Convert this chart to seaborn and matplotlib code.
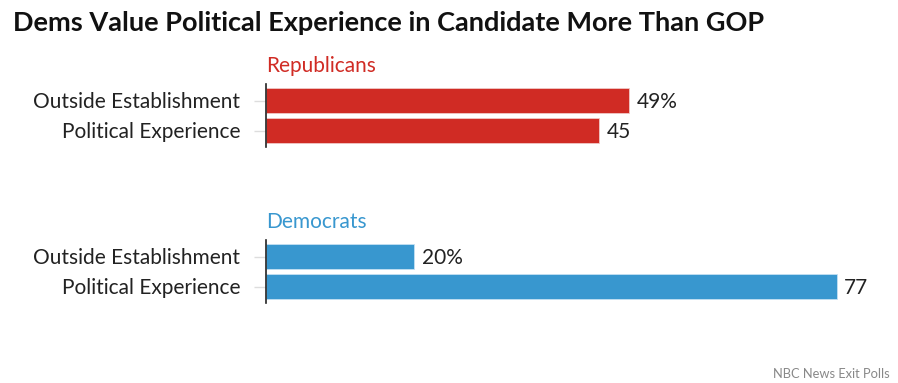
import pandas as pd
import seaborn as sns
import matplotlib.pyplot as plt

# Dados
categorias = ['Outside Establishment', 'Political Experience']
republicanos = [49, 45]
democratas = [20, 77]
rotulos_rep = ['49%', '45']
rotulos_dem = ['20%', '77']

sns.set_theme(style='white')
plt.rcParams['font.family'] = ['Lato', 'DejaVu Sans']

W, H = 898, 383
fig = plt.figure(figsize=(W / 100, H / 100), dpi=100)

px = 7.41  # pixels por ponto percentual
esq, dir_ = 266, 880
largura = dir_ - esq
tam = 15


def painel(topo, valores, rotulos, cor, borda, titulo):
    ax = fig.add_axes([esq / W, 1 - (topo + 63) / H, largura / W, 63 / H])
    df = pd.DataFrame({'cat': categorias, 'val': valores})
    sns.barplot(data=df, x='val', y='cat', orient='h', color=cor, saturation=1,
                width=0.833, edgecolor=borda, linewidth=0.6, ax=ax)
    ax.set_xlim(0, largura / px)
    ax.set_ylim(1.55, -0.55)
    ax.set_xlabel('')
    ax.set_ylabel('')
    ax.set_xticks([])
    for s in ['top', 'right', 'bottom']:
        ax.spines[s].set_visible(False)
    ax.spines['left'].set_color('#222222')
    ax.spines['left'].set_linewidth(1.2)
    ax.tick_params(axis='y', length=8.5, width=1, color='#dddddd', left=True,
                   labelsize=tam, labelcolor='#222222', pad=10)
    for i, (v, r) in enumerate(zip(valores, rotulos)):
        ax.text(v + 1.0, i + 0.05, r, va='center', ha='left', fontsize=tam,
                color='#222222')
    ax.text(0.05, -0.95, titulo, ha='left', va='baseline', fontsize=tam, color=cor)
    return ax


painel(84, republicanos, rotulos_rep, '#d02b24', '#f0c8c6', 'Republicans')
painel(240, democratas, rotulos_dem, '#3897cf', '#c3e0f2', 'Democrats')

fig.text(13 / W, 1 - 23 / H, 'Dems Value Political Experience in Candidate More Than GOP',
         fontsize=19.5, fontweight='bold', color='#111111', ha='left', va='center')
fig.text(890 / W, 1 - 374 / H, 'NBC News Exit Polls', fontsize=9.3, color='#888888',
         ha='right', va='center')

fig.savefig('out.png', dpi=100)
